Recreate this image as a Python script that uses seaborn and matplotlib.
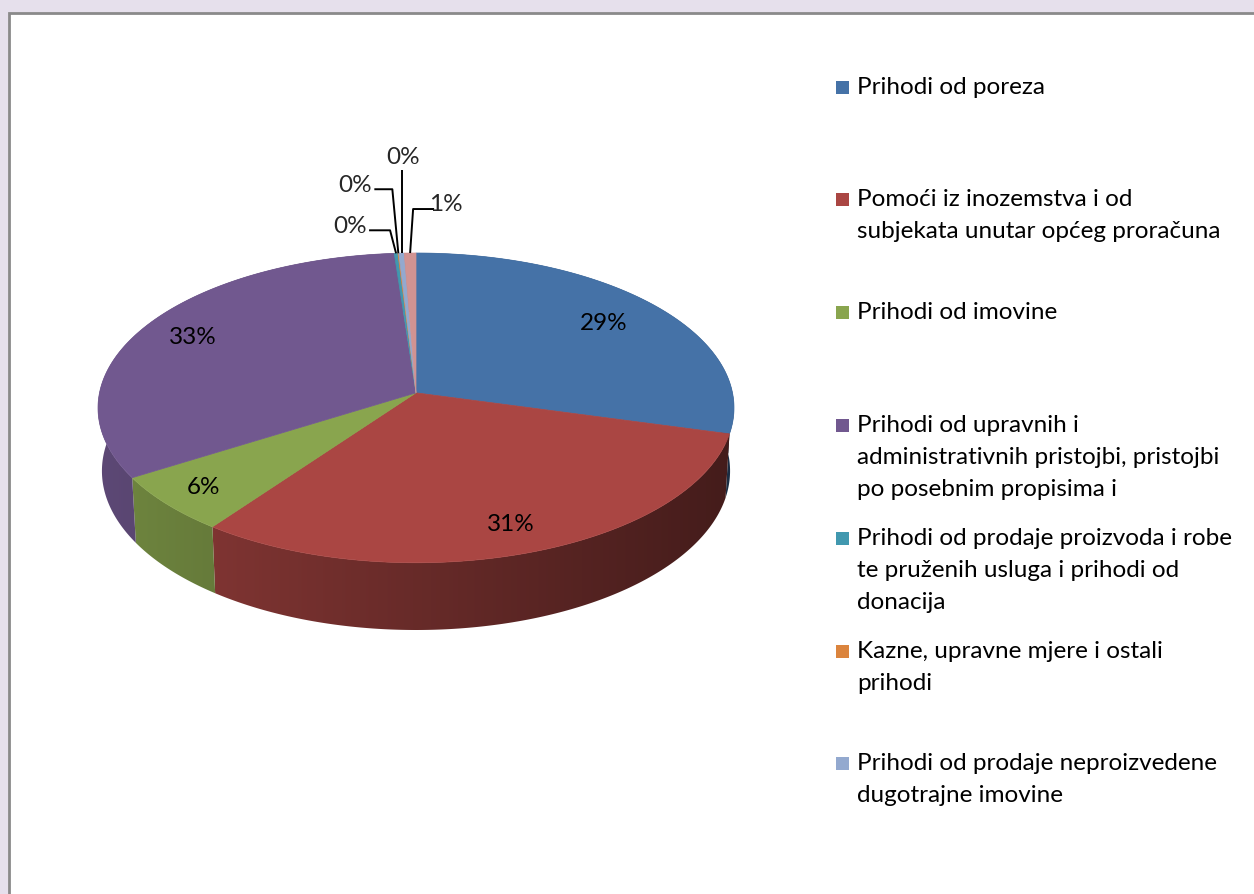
import numpy as np
import matplotlib
matplotlib.use('Agg')
import matplotlib.pyplot as plt
import seaborn as sns
from matplotlib.patches import Rectangle, Polygon
from matplotlib.colors import to_rgb

# Data: share of each revenue group (percent)
legend_labels = [
    'Prihodi od poreza',
    'Pomoći iz inozemstva i od\nsubjekata unutar općeg proračuna',
    'Prihodi od imovine',
    'Prihodi od upravnih i\nadministrativnih pristojbi, pristojbi\npo posebnim propisima i',
    'Prihodi od prodaje proizvoda i robe\nte pruženih usluga i prihodi od\ndonacija',
    'Kazne, upravne mjere i ostali\nprihodi',
    'Prihodi od prodaje neproizvedene\ndugotrajne imovine',
]
shares = [29.2, 30.9, 6.1, 32.6, 0.2, 0.05, 0.3, 0.65]
colors = ['#4572A7', '#AA4643', '#89A54E', '#71588F',
          '#4198AF', '#DB843D', '#93A9CF', '#D19392']

sns.set_style('white')
plt.rcParams['font.family'] = ['Lato', 'DejaVu Sans']

W, H = 1254, 894
fig = plt.figure(figsize=(W / 100, H / 100), dpi=100)
fig.patch.set_facecolor('#E6E0EC')
ax = fig.add_axes([0, 0, 1, 1])
ax.set_xlim(0, W)
ax.set_ylim(H, 0)
ax.axis('off')

# chart area frame
ax.add_patch(Rectangle((8.5, 12.5), 1400, 1000, facecolor='white',
                       edgecolor='#8a8a8a', lw=2, zorder=0))

# simple perspective projection of a flat cylinder
elev = np.radians(29)
se, ce = np.sin(elev), np.cos(elev)
D = 9.0
h = 0.23


def proj(theta, r, z):
    t = np.radians(theta)
    X = r * np.sin(t)
    Y = r * np.cos(t)
    depth = D + Y * ce - z * se
    return X / depth, (Y * se + z * ce) / depth


full = np.linspace(0, 360, 721)
tx, ty = proj(full, 1.0, 0.0)
bx, by = proj(full, 1.0, -h)
sxmin, sxmax = tx.min(), tx.max()
symax, symin = ty.max(), by.min()
left, right, top, bottom = 98, 734, 253, 630
kx = (right - left) / (sxmax - sxmin)
ky = (bottom - top) / (symax - symin)


def to_px(theta, r, z):
    sx, sy = proj(theta, r, z)
    return left + (sx - sxmin) * kx, top + (symax - sy) * ky


total = sum(shares)
bounds = np.concatenate([[0], np.cumsum(shares)]) / total * 360

# side walls with a left-to-right darkening gradient
grad = np.linspace(0.82, 0.40, 256)
for i, c in enumerate(colors):
    a0, a1 = bounds[i], bounds[i + 1]
    n = max(2, int((a1 - a0) * 2))
    th = np.linspace(a0, a1, n)
    x0, y0 = to_px(th, 1.0, 0.0)
    x1, y1 = to_px(th, 1.0, -h)
    pts = list(zip(x0, y0)) + list(zip(x1[::-1], y1[::-1]))
    base = np.array(to_rgb(c))
    img = np.clip(grad[None, :, None] * base[None, None, :], 0, 1)
    img = np.repeat(img, 2, axis=0)
    clip = Polygon(pts, closed=True, facecolor='none', edgecolor='none')
    ax.add_patch(clip)
    im = ax.imshow(img, extent=(left, right, bottom + 2, top), aspect='auto',
                   interpolation='bilinear', zorder=2)
    im.set_clip_path(clip)
ax.set_xlim(0, W)
ax.set_ylim(H, 0)

# top faces
cx, cy = to_px(0, 0.0, 0.0)
for i, c in enumerate(colors):
    a0, a1 = bounds[i], bounds[i + 1]
    n = max(2, int((a1 - a0) * 2))
    th = np.linspace(a0, a1, n)
    x0, y0 = to_px(th, 1.0, 0.0)
    pts = [(cx, cy)] + list(zip(x0, y0))
    ax.add_patch(Polygon(pts, closed=True, facecolor=c, edgecolor=c,
                         lw=0.5, zorder=3))

fs = 17.5
# labels inside the big slices
label_r = [0.78, 0.84, 0.86, 0.82]
for i in range(4):
    mid = (bounds[i] + bounds[i + 1]) / 2
    lx, ly = to_px(mid, label_r[i], 0.0)
    ax.text(lx, ly, f'{shares[i] / total * 100:.0f}%', ha='center',
            va='center', fontsize=fs, color='black', zorder=5)

# leader lines for the tiny slices: (elbow dx, dy, end dx, text align)
leaders = [(-6, -23, -21, 'right'), (-6, -64, -18, 'right'),
           (0, -83, 0, 'center'), (3, -44, 21, 'left')]
for i, (edx, edy, endx, ha) in zip(range(4, 8), leaders):
    mid = (bounds[i] + bounds[i + 1]) / 2
    axp, ayp = to_px(mid, 1.0, 0.0)
    ex, ey = axp + edx, ayp + edy
    ax.plot([axp, ex, ex + endx], [ayp, ey, ey], color='black', lw=1.4,
            zorder=6, solid_capstyle='butt')
    txt = f'{shares[i] / total * 100:.0f}%'
    if ha == 'center':
        ax.text(ex + 2, ey - 2, txt, ha='center', va='bottom', fontsize=fs,
                zorder=6)
    elif ha == 'right':
        ax.text(ex + endx - 2, ey - 4, txt, ha='right', va='center',
                fontsize=fs, zorder=6)
    else:
        ax.text(ex + endx - 5, ey - 5, txt, ha='left', va='center',
                fontsize=fs, zorder=6)

# legend, Excel style slots
slot0, step, pitch = 87, 112.8, 32
for i, lab in enumerate(legend_labels):
    y = slot0 + i * step
    ax.add_patch(Rectangle((836, y - 6.5), 13, 13, facecolor=colors[i],
                           edgecolor='none', zorder=5))
    for j, line in enumerate(lab.split('\n')):
        ax.text(857, y + j * pitch, line, ha='left', va='center',
                fontsize=fs, color='black', zorder=5)

fig.savefig('out.png', dpi=100, facecolor=fig.get_facecolor())
